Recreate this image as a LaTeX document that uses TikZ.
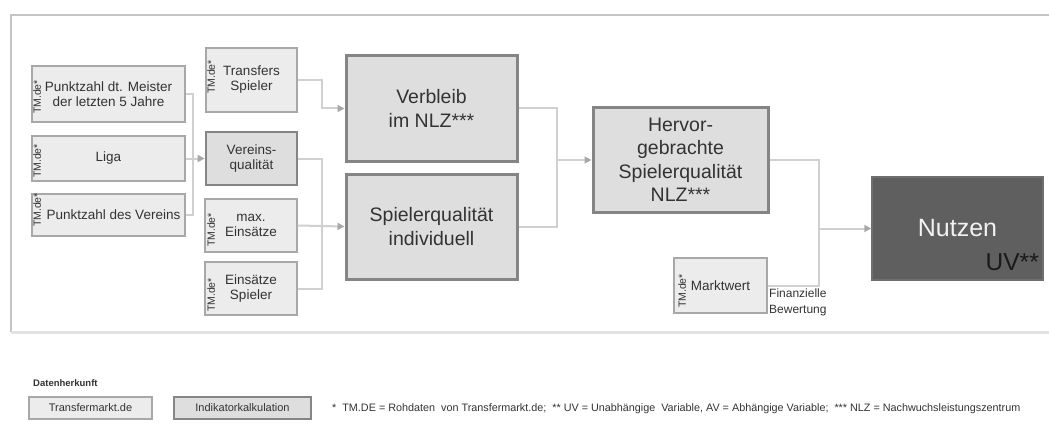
\documentclass[tikz,border=0pt]{standalone}
\usepackage{fontspec}
\setmainfont{Liberation Sans}
\usetikzlibrary{arrows.meta}

\definecolor{framegray}{HTML}{C4C4C4}
\definecolor{framelow}{HTML}{E2E2E2}
\definecolor{srcfill}{HTML}{ECECEC}
\definecolor{srcline}{HTML}{A8A8A8}
\definecolor{calcfill}{HTML}{DEDEDE}
\definecolor{calcline}{HTML}{858585}
\definecolor{connline}{HTML}{D0D0D0}
\definecolor{tipgray}{HTML}{A8A8A8}
\definecolor{targetfill}{HTML}{5F5F5F}
\definecolor{textgray}{HTML}{333333}

\tikzset{
  srcbox/.style={draw=srcline, fill=srcfill, line width=1.3pt, inner sep=0pt,
    align=center, text=textgray, font=\fontsize{13.5}{15}\selectfont},
  calcbox/.style={draw=calcline, fill=calcfill, line width=3pt, inner sep=0pt,
    align=center, text=textgray, font=\fontsize{19.5}{23.5}\selectfont},
  smallcalc/.style={draw=calcline, fill=calcfill, line width=2.6pt, inner sep=0pt,
    align=center, text=textgray, font=\fontsize{13.5}{15}\selectfont},
  tmlabel/.style={rotate=90, inner sep=0pt, text=textgray, font=\fontsize{10.5}{12}\selectfont},
  conn/.style={draw=connline, line width=2pt},
  arr/.style={conn, -{Triangle[length=7pt,width=7pt,fill=tipgray,color=tipgray]}},
}

\begin{document}
\begin{tikzpicture}[x=1pt,y=-1pt]
\useasboundingbox (0,0) rectangle (1049,425);

% frame around the model
\draw[framegray, line width=2pt] (11,332) -- (11,15) -- (1049,15);
\draw[framelow, line width=3pt] (11,332) -- (1049,332);

% data sources, left column
\node[srcbox, minimum width=153, minimum height=56] (meister) at (108.5,94)
  {Punktzahl dt. Meister\\der letzten 5 Jahre};
\node[srcbox, minimum width=153, minimum height=45] (liga) at (108.5,158.5) {Liga};
\node[srcbox, minimum width=153, minimum height=42] (verein) at (108.5,215)
  {\hspace*{10pt}Punktzahl des Vereins};
\node[tmlabel] (tm1) at (37,97) {TM.de*};
\node[tmlabel] (tm2) at (37,161) {TM.de*};
\node[tmlabel] (tm3) at (37,210) {TM.de*};

% second column
\node[srcbox, minimum width=91, minimum height=64] (transfers) at (251.5,80)
  {Transfers\\Spieler};
\node[smallcalc, minimum width=91, minimum height=53] (vq) at (251.5,158.5)
  {Vereins-\\qualität};
\node[srcbox, minimum width=92, minimum height=53] (maxe) at (251,225.5)
  {max.\\Einsätze};
\node[srcbox, minimum width=92, minimum height=53] (einsaetze) at (251,288.5)
  {Einsätze\\Spieler};
\node[tmlabel] (tm4) at (211,77) {TM.de*};
\node[tmlabel] (tm5) at (211,230) {TM.de*};
\node[tmlabel] (tm6) at (211,295) {TM.de*};

% indicators
\node[calcbox, minimum width=171, minimum height=105] (verbleib) at (431.5,108.5)
  {Verbleib\\im NLZ***};
\node[calcbox, minimum width=171, minimum height=105] (spq) at (431.5,226.5)
  {Spielerqualität\\individuell};
\node[calcbox, minimum width=175, minimum height=104] (hervor) at (680.5,160)
  {Hervor-\\gebrachte\\Spielerqualität\\NLZ***};

% market value
\node[srcbox, minimum width=93, minimum height=55] (markt) at (720.5,285.5) {Marktwert};
\node[tmlabel] (tm7) at (682,291) {TM.de*};
\node[anchor=north west, inner sep=0pt, align=left, text=textgray,
  font=\fontsize{12}{16}\selectfont] (fin) at (769,288.5) {Finanzielle\\Bewertung};

% outcome
\node[draw=targetfill!90!white, fill=targetfill, line width=1.5pt,
  minimum width=171, minimum height=103, inner sep=0pt,
  text={rgb,255:red,242;green,242;blue,242}, font=\fontsize{25}{28}\selectfont]
  (nutzen) at (957.5,228.5) {Nutzen};
\node[anchor=base east, inner sep=0pt, text={rgb,255:red,26;green,26;blue,26},
  font=\fontsize{24.5}{28}\selectfont] (uv) at (1039,270) {UV**};

% junction points
\coordinate (j1) at (193,158.5);
\coordinate (j2) at (322,108.5);
\coordinate (j3) at (322,226.5);
\coordinate (j4) at (557,160);
\coordinate (j5) at (819,228.5);

% connectors
\draw[conn] (meister.east) -| (j1) |- (verein.east);
\draw[arr] (liga.east) -- (vq.west);
\draw[arr] (transfers.east) -| (j2) -- (verbleib.west);
\draw[conn] (vq.east) -| (j3) |- (einsaetze.east);
\draw[arr] (maxe.east) -- (spq.west);
\draw[conn] (verbleib.east) -| (j4) |- (spq.east);
\draw[arr] (j4) -- (hervor.west);
\draw[conn] (hervor.east) -| (j5) |- (markt.east);
\draw[arr] (j5) -- (nutzen.west);

% legend
\node[anchor=west, inner sep=0pt, font=\bfseries\fontsize{9.5}{10}\selectfont, text=textgray]
  (dh) at (33,383) {Datenherkunft};
\node[draw=srcline, fill=srcfill, line width=1.2pt, minimum width=123, minimum height=22,
  inner sep=0pt, text=textgray, font=\fontsize{11}{12}\selectfont]
  (lg1) at (90.5,408) {Transfermarkt.de};
\node[draw=calcline, fill=calcfill, line width=2pt, minimum width=137, minimum height=22,
  inner sep=0pt, text=textgray, font=\fontsize{11}{12}\selectfont]
  (lg2) at (242.5,408) {Indikatorkalkulation};
\node[anchor=west, inner sep=0pt, text=textgray, font=\fontsize{10.8}{12}\selectfont]
  (fn) at (332,409)
  {*\ \ TM.DE = Rohdaten\ \ von Transfermarkt.de;\ \ ** UV = Unabhängige\ \ Variable, AV = Abhängige Variable;\ \ *** NLZ = Nachwuchsleistungszentrum};
\end{tikzpicture}
\end{document}
